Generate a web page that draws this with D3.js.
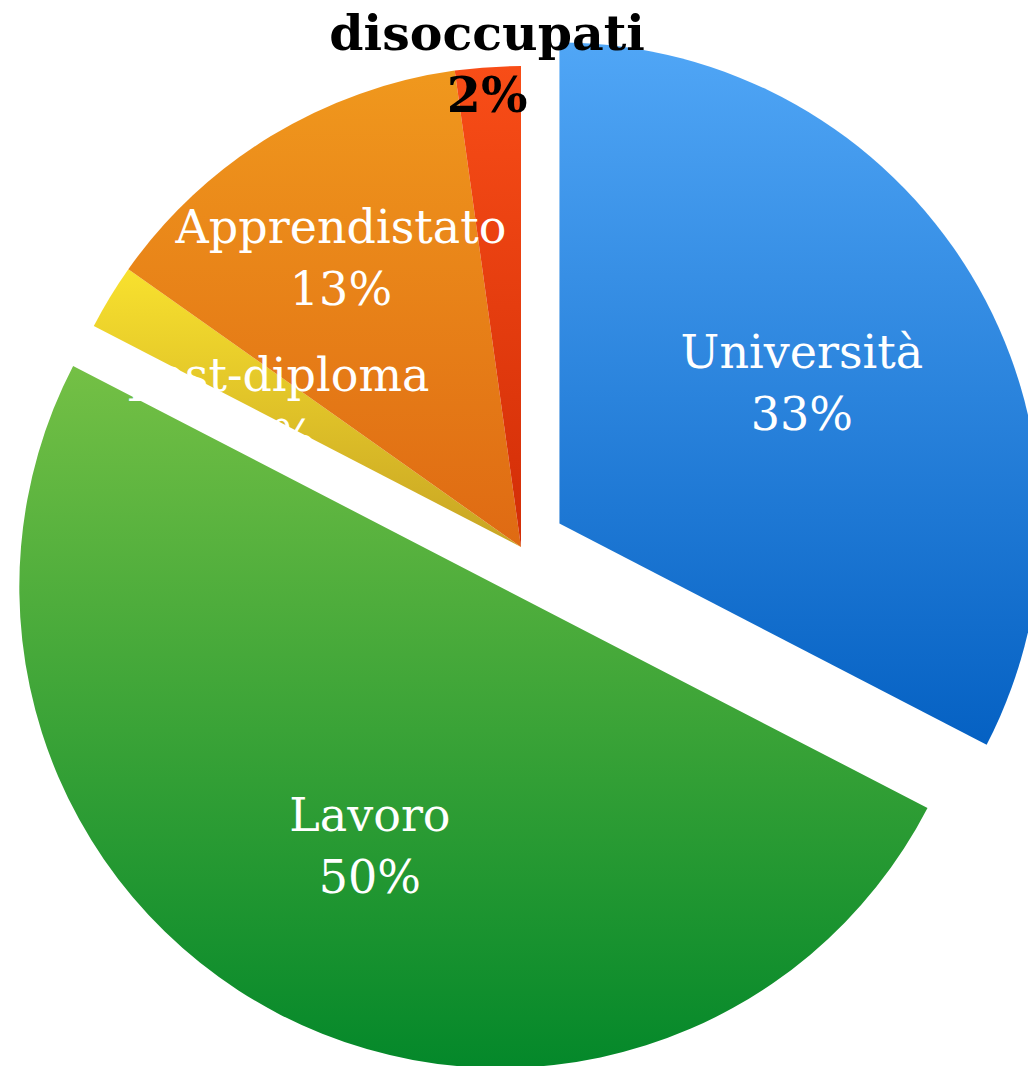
<!DOCTYPE html>
<html>
<head>
<meta charset="utf-8">
<script src="https://cdn.jsdelivr.net/npm/d3@7"></script>
<style>
  body { margin: 0; background: #fff; }
  svg { display: block; }
</style>
</head>
<body>
<div id="myChart"></div>
<script>
// data (percent of students)
var categories = ["Università", "Lavoro", "post-diploma", "Apprendistato", "disoccupati"];
var values = [32.6, 50.0, 2.2, 13.0, 2.2];

var width = 1028, height = 1066;
var cx = 521, cy = 547, radius = 481;

// gradient colours, top -> bottom
var topColor = { "Università": "#50a6f6", "Lavoro": "#74c045", "post-diploma": "#f8e12e",
                 "Apprendistato": "#f0981d", "disoccupati": "#f84d17" };
var bottomColor = { "Università": "#0561c3", "Lavoro": "#04882a", "post-diploma": "#c8a423",
                    "Apprendistato": "#df6a13", "disoccupati": "#d22d07" };
var explode = { "Università": 45, "Lavoro": 45 };
var labelPos = { "Apprendistato": 0.72, "disoccupati": 1.02 };

var rows = categories.map(function(c, i) { return { item: c, value: values[i] }; });

var pie = d3.pie()
  .sort(null)
  .value(function(d) { return d.value; });

var slices = pie(rows);

var arc = d3.arc()
  .innerRadius(0)
  .outerRadius(radius);

var svg = d3.select("#myChart").append("svg")
  .attr("width", width)
  .attr("height", height);

var defs = svg.append("defs");
slices.forEach(function(s, i) {
  var grad = defs.append("linearGradient")
    .attr("id", "grad" + i)
    .attr("x1", 0).attr("y1", 0).attr("x2", 0).attr("y2", 1);
  grad.append("stop").attr("offset", "0%").attr("stop-color", topColor[s.data.item]);
  grad.append("stop").attr("offset", "100%").attr("stop-color", bottomColor[s.data.item]);
});

function offset(s) {
  var mid = (s.startAngle + s.endAngle) / 2;
  var e = explode[s.data.item] || 0;
  return [e * Math.sin(mid), -e * Math.cos(mid)];
}

var g = svg.append("g").attr("transform", "translate(" + cx + "," + cy + ")");

g.selectAll("path")
  .data(slices)
  .enter()
  .append("path")
  .attr("d", arc)
  .attr("transform", function(s) { var o = offset(s); return "translate(" + o[0] + "," + o[1] + ")"; })
  .attr("fill", function(s, i) { return "url(#grad" + i + ")"; });

// labels
var labels = g.selectAll("g.label")
  .data(slices)
  .enter()
  .append("g")
  .attr("class", "label")
  .attr("transform", function(s) {
    var o = offset(s);
    var mid = (s.startAngle + s.endAngle) / 2;
    var r = radius * (labelPos[s.data.item] || 0.59);
    return "translate(" + (o[0] + r * Math.sin(mid)) + "," + (o[1] - r * Math.cos(mid)) + ")";
  })
  .style("font-family", "'DejaVu Serif', serif")
  .style("text-anchor", "middle")
  .style("fill", function(s) { return s.data.item == "disoccupati" ? "#000" : "#fff"; })
  .style("font-weight", function(s) { return s.data.item == "disoccupati" ? "bold" : "normal"; })
  .style("font-size", function(s) { return s.data.item == "disoccupati" ? "49px" : "46px"; });

labels.append("text")
  .attr("y", -8)
  .text(function(s) { return s.data.item; });

labels.append("text")
  .attr("y", 54)
  .text(function(s) { return Math.round(s.data.value) + "%"; });
</script>
</body>
</html>
